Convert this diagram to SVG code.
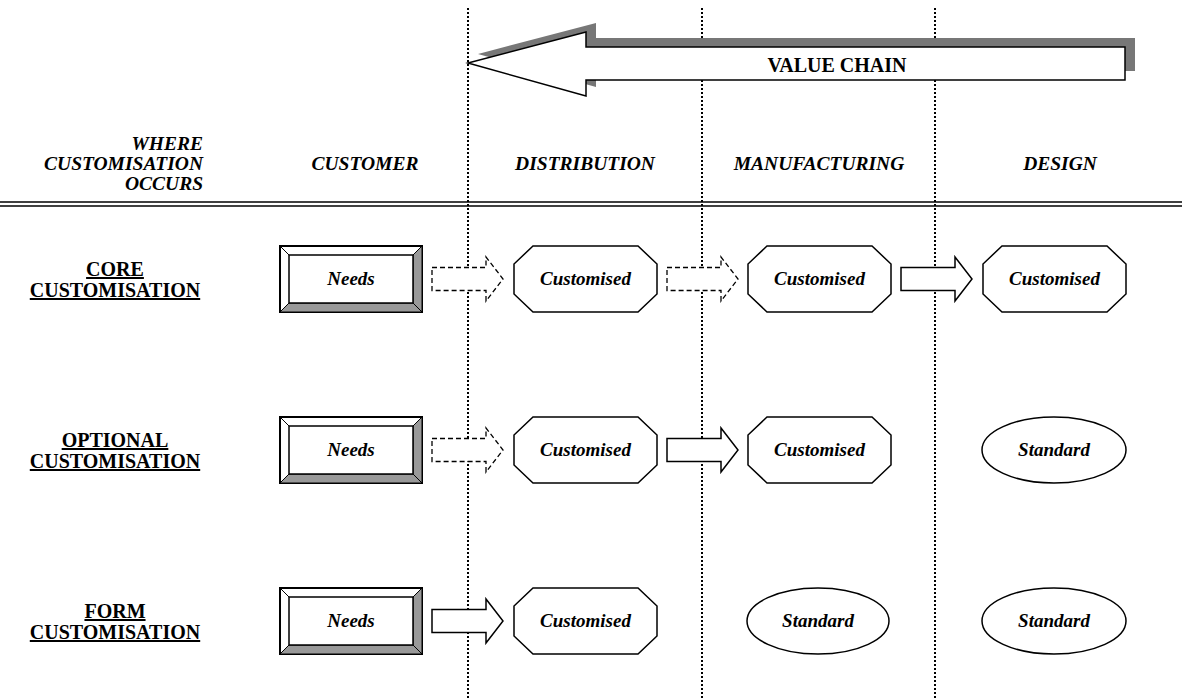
<svg xmlns="http://www.w3.org/2000/svg" width="1182" height="698" viewBox="0 0 1182 698">
<style>
.hdr{font-family:"Liberation Serif","Times New Roman",serif;font-weight:bold;font-style:italic;font-size:19.5px;fill:#000}
.row{font-family:"Liberation Serif","Times New Roman",serif;font-weight:bold;font-size:20px;fill:#000;text-decoration:underline}
.nt{font-family:"Liberation Serif","Times New Roman",serif;font-weight:bold;font-style:italic;font-size:19px;fill:#000}
.vc{font-family:"Liberation Serif","Times New Roman",serif;font-weight:bold;font-size:20px;fill:#000}
.dot{stroke:#000;stroke-width:2;stroke-dasharray:2,2;fill:none}
.oct{fill:#fff;stroke:#000;stroke-width:1.5}
.ell{fill:#fff;stroke:#000;stroke-width:1.5}
.frame{fill:#fff;stroke:#000;stroke-width:2}
.bev{fill:#999;stroke:#000;stroke-width:1}
.inner{fill:#fff;stroke:#000;stroke-width:1.5}
.arr{fill:#fff;stroke:#000;stroke-width:1.5}
.arrd{fill:#fff;stroke:#000;stroke-width:1.3;stroke-dasharray:5,3}
</style>
<defs>
<path id="octShape" d="M19,0 H124 L143,18 V48 L124,66 H19 L0,48 V18 Z"/>
<path id="arrShape" d="M0,-11.5 H54 V-22 L71,0 L54,22 V11.5 H0 Z"/>
<g id="needsBox">
<rect x="0" y="0" width="142" height="66" class="frame"/>
<polygon points="142,0 142,66 133,57 133,9" class="bev"/>
<polygon points="0,66 142,66 133,57 9,57" class="bev"/>
<line x1="0" y1="0" x2="9" y2="9" stroke="#000" stroke-width="1"/>
<rect x="9" y="9" width="124" height="48" class="inner"/>
</g>
</defs>
<rect width="1182" height="698" fill="#fff"/>

<g id="grid">
<line x1="468" y1="8" x2="468" y2="698" class="dot"/>
<line x1="702" y1="8" x2="702" y2="698" class="dot"/>
<line x1="935" y1="8" x2="935" y2="698" class="dot"/>
<line x1="0" y1="202" x2="1182" y2="202" stroke="#000" stroke-width="1.5"/>
<line x1="0" y1="206" x2="1182" y2="206" stroke="#000" stroke-width="1.5"/>
</g>

<g id="value-chain">
<polygon points="478,54 596,23 596,38 1135,38 1135,71 596,71 596,87" fill="#777"/>
<polygon points="468,63 586,32 586,47 1125,47 1125,80 586,80 586,96" fill="#fff" stroke="#000" stroke-width="1.5"/>
<text x="837" y="72" text-anchor="middle" class="vc">VALUE CHAIN</text>
</g>

<g id="headers">
<text x="203" y="150" text-anchor="end" class="hdr">WHERE</text>
<text x="203" y="170" text-anchor="end" class="hdr">CUSTOMISATION</text>
<text x="203" y="190" text-anchor="end" class="hdr">OCCURS</text>
<text x="365" y="170" text-anchor="middle" class="hdr">CUSTOMER</text>
<text x="585" y="170" text-anchor="middle" class="hdr">DISTRIBUTION</text>
<text x="819" y="170" text-anchor="middle" class="hdr">MANUFACTURING</text>
<text x="1060" y="170" text-anchor="middle" class="hdr">DESIGN</text>
</g>

<g id="row-labels">
<text x="115" y="276" text-anchor="middle" class="row">CORE</text>
<text x="115" y="297" text-anchor="middle" class="row">CUSTOMISATION</text>
<text x="115" y="447" text-anchor="middle" class="row">OPTIONAL</text>
<text x="115" y="468" text-anchor="middle" class="row">CUSTOMISATION</text>
<text x="115" y="618" text-anchor="middle" class="row">FORM</text>
<text x="115" y="639" text-anchor="middle" class="row">CUSTOMISATION</text>
</g>

<g id="connectors">
<use href="#arrShape" x="432" y="279" class="arrd"/>
<use href="#arrShape" x="667" y="279" class="arrd"/>
<use href="#arrShape" x="901" y="279" class="arr"/>
<use href="#arrShape" x="432" y="450" class="arrd"/>
<use href="#arrShape" x="667" y="450" class="arr"/>
<use href="#arrShape" x="432" y="621" class="arr"/>
</g>

<g id="core-needs"><use href="#needsBox" x="280" y="246"/><text x="351" y="285" text-anchor="middle" class="nt">Needs</text></g>
<g id="core-dist"><use href="#octShape" x="514" y="246" class="oct"/><text x="585.5" y="285" text-anchor="middle" class="nt">Customised</text></g>
<g id="core-manu"><use href="#octShape" x="748" y="246" class="oct"/><text x="819.5" y="285" text-anchor="middle" class="nt">Customised</text></g>
<g id="core-design"><use href="#octShape" x="983" y="246" class="oct"/><text x="1054.5" y="285" text-anchor="middle" class="nt">Customised</text></g>

<g id="opt-needs"><use href="#needsBox" x="280" y="417"/><text x="351" y="456" text-anchor="middle" class="nt">Needs</text></g>
<g id="opt-dist"><use href="#octShape" x="514" y="417" class="oct"/><text x="585.5" y="456" text-anchor="middle" class="nt">Customised</text></g>
<g id="opt-manu"><use href="#octShape" x="748" y="417" class="oct"/><text x="819.5" y="456" text-anchor="middle" class="nt">Customised</text></g>
<g id="opt-design"><ellipse cx="1054" cy="450" rx="72" ry="33" class="ell"/><text x="1054" y="456" text-anchor="middle" class="nt">Standard</text></g>

<g id="form-needs"><use href="#needsBox" x="280" y="588"/><text x="351" y="627" text-anchor="middle" class="nt">Needs</text></g>
<g id="form-dist"><use href="#octShape" x="514" y="588" class="oct"/><text x="585.5" y="627" text-anchor="middle" class="nt">Customised</text></g>
<g id="form-manu"><ellipse cx="818" cy="621" rx="71" ry="33" class="ell"/><text x="818" y="627" text-anchor="middle" class="nt">Standard</text></g>
<g id="form-design"><ellipse cx="1054" cy="621" rx="72" ry="33" class="ell"/><text x="1054" y="627" text-anchor="middle" class="nt">Standard</text></g>
</svg>
